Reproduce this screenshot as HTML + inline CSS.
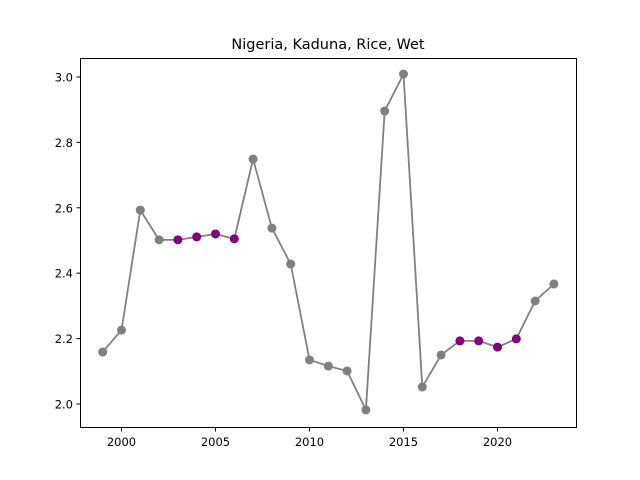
<!DOCTYPE html>
<html><head><meta charset="utf-8"><style>
body{margin:0;background:#fff;}
svg{display:block;font-family:"DejaVu Sans","Liberation Sans",sans-serif;}
</style></head><body>
<svg id="chart" width="640" height="480">
<rect width="640" height="480" fill="#fff"/>
<text x="328" y="49" text-anchor="middle" font-size="14.5">Nigeria, Kaduna, Rice, Wet</text>
<g id="axes"></g>
<g id="marks"></g>
<rect x="80.5" y="58.5" width="496" height="369" fill="none" stroke="#000" stroke-width="1"/>
</svg>
<script>
const years=[1999,2000,2001,2002,2003,2004,2005,2006,2007,2008,2009,2010,2011,2012,2013,2014,2015,2016,2017,2018,2019,2020,2021,2022,2023];
const values=[2.159,2.226,2.593,2.502,2.502,2.511,2.520,2.505,2.749,2.538,2.428,2.135,2.116,2.101,1.982,2.896,3.009,2.052,2.150,2.193,2.193,2.174,2.199,2.315,2.367];
const highlighted=[2003,2004,2005,2006,2018,2019,2020,2021];
const xTicks=[2000,2005,2010,2015,2020];
const yTicks=[2.0,2.2,2.4,2.6,2.8,3.0];
const NS="http://www.w3.org/2000/svg";
function xs(v){return 121.5+(v-2000)*18.8;}
function ys(v){return 404-(v-2.0)*327;}
function mk(t,a,p){const e=document.createElementNS(NS,t);for(const k in a)e.setAttribute(k,a[k]);p.appendChild(e);return e;}
const ax=document.getElementById('axes'),mg=document.getElementById('marks');
xTicks.forEach(t=>{
  const x=xs(t);
  const l=mk('line',{x1:x,x2:x,y1:427.5,y2:431.5,stroke:'#000'},ax);
  
  
  const tx=mk('text',{x:x,y:446,'text-anchor':'middle','font-size':'11.5'},ax);
  tx.textContent=t;
  
  
});
yTicks.forEach(t=>{
  const y=ys(t);
  const l=mk('line',{x1:76.5,x2:80.5,y1:y,y2:y,stroke:'#000'},ax);
  
  
  const tx=mk('text',{x:73,y:y+4.5,'text-anchor':'end','font-size':'11.5'},ax);
  tx.textContent=t.toFixed(1);
  
  
});
const pts=years.map((y,i)=>xs(y)+','+ys(values[i])).join(' ');
const line=mk('polyline',{points:pts,fill:'none',stroke:'#808080','stroke-width':'1.8'},mg);


years.forEach((y,i)=>{
  const c=mk('circle',{cx:xs(y),cy:ys(values[i]),r:4.5,fill:highlighted.includes(y)?'#800080':'#808080'},mg);
  
  
});
</script>
</body></html>
